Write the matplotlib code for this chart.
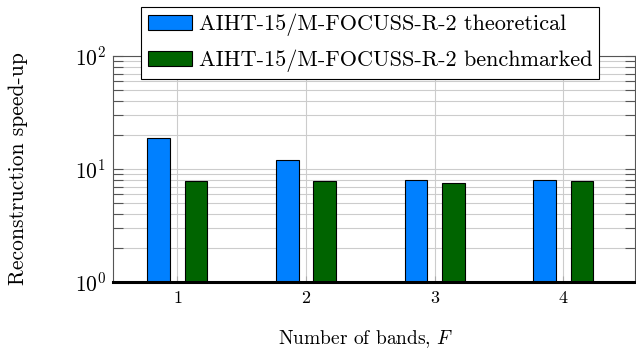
import numpy as np
import matplotlib
matplotlib.use("Agg")
import matplotlib.pyplot as plt
from matplotlib.ticker import LogLocator, NullFormatter

plt.rcParams['font.family'] = 'serif'
plt.rcParams['font.serif'] = ['cmr10', 'DejaVu Serif']
plt.rcParams['mathtext.fontset'] = 'cm'
plt.rcParams['axes.formatter.use_mathtext'] = True

# data
bands = [1, 2, 3, 4]
theoretical = [19.0, 12.0, 8.0, 8.0]
benchmarked = [7.9, 7.9, 7.55, 7.9]
labels = ['AIHT-15/M-FOCUSS-R-2 theoretical', 'AIHT-15/M-FOCUSS-R-2 benchmarked']

fig = plt.figure(figsize=(6.36, 3.53), dpi=100)
ax = fig.add_axes([113 / 636, 1 - 282 / 353, 1 - 113 / 636 - 0.001, 226 / 353])

x = np.array(bands)
w = 0.175
off = 0.145
ax.bar(x - off, theoretical, w, color='#0080ff', edgecolor='black', linewidth=0.8,
       label=labels[0], zorder=3)
ax.bar(x + off, benchmarked, w, color='#006400', edgecolor='black', linewidth=0.8,
       label=labels[1], zorder=3)

ax.set_yscale('log')
ax.set_ylim(1, 100)
ax.set_xlim(0.5, 4.56)
ax.set_xticks(bands)

ax.yaxis.set_major_locator(LogLocator(base=10, numticks=5))
ax.yaxis.set_minor_locator(LogLocator(base=10, subs=np.arange(2, 10), numticks=10))
ax.yaxis.set_minor_formatter(NullFormatter())

ax.grid(True, which='major', axis='both', color='#cccccc', linewidth=0.8, zorder=0)
ax.grid(True, which='minor', axis='y', color='#cccccc', linewidth=0.8, zorder=0)

ax.tick_params(axis='y', which='both', direction='in', length=7, width=0.8,
               color='#555555', labelsize=15.5, right=True, pad=5)
ax.tick_params(axis='x', which='both', direction='in', length=4, width=0.8,
               color='#aaaaaa', labelsize=13, pad=6)

for side in ['left', 'top', 'right']:
    ax.spines[side].set_color('#555555')
    ax.spines[side].set_linewidth(0.8)
ax.spines['bottom'].set_visible(False)
ax.axhline(1, color='black', linewidth=2.2, zorder=4, clip_on=False)

ax.set_xlabel('Number of bands, $F$', fontsize=14)
ax.xaxis.set_label_coords(0.483, -0.205)
ax.set_ylabel('Reconstruction speed-up', fontsize=15.5)
ax.yaxis.set_label_coords(-0.163, 0.5)

leg = ax.legend(loc='upper left', bbox_to_anchor=(141 / 636, 1 - 7 / 353),
                bbox_transform=fig.transFigure, fontsize=16,
                frameon=True, fancybox=False, edgecolor='black', framealpha=1,
                handlelength=2.0, handleheight=0.65, handletextpad=0.3,
                borderpad=0.3, labelspacing=0.6, borderaxespad=0)
leg.get_frame().set_linewidth(0.8)
leg.set_zorder(10)

fig.savefig('out.png', dpi=100)
